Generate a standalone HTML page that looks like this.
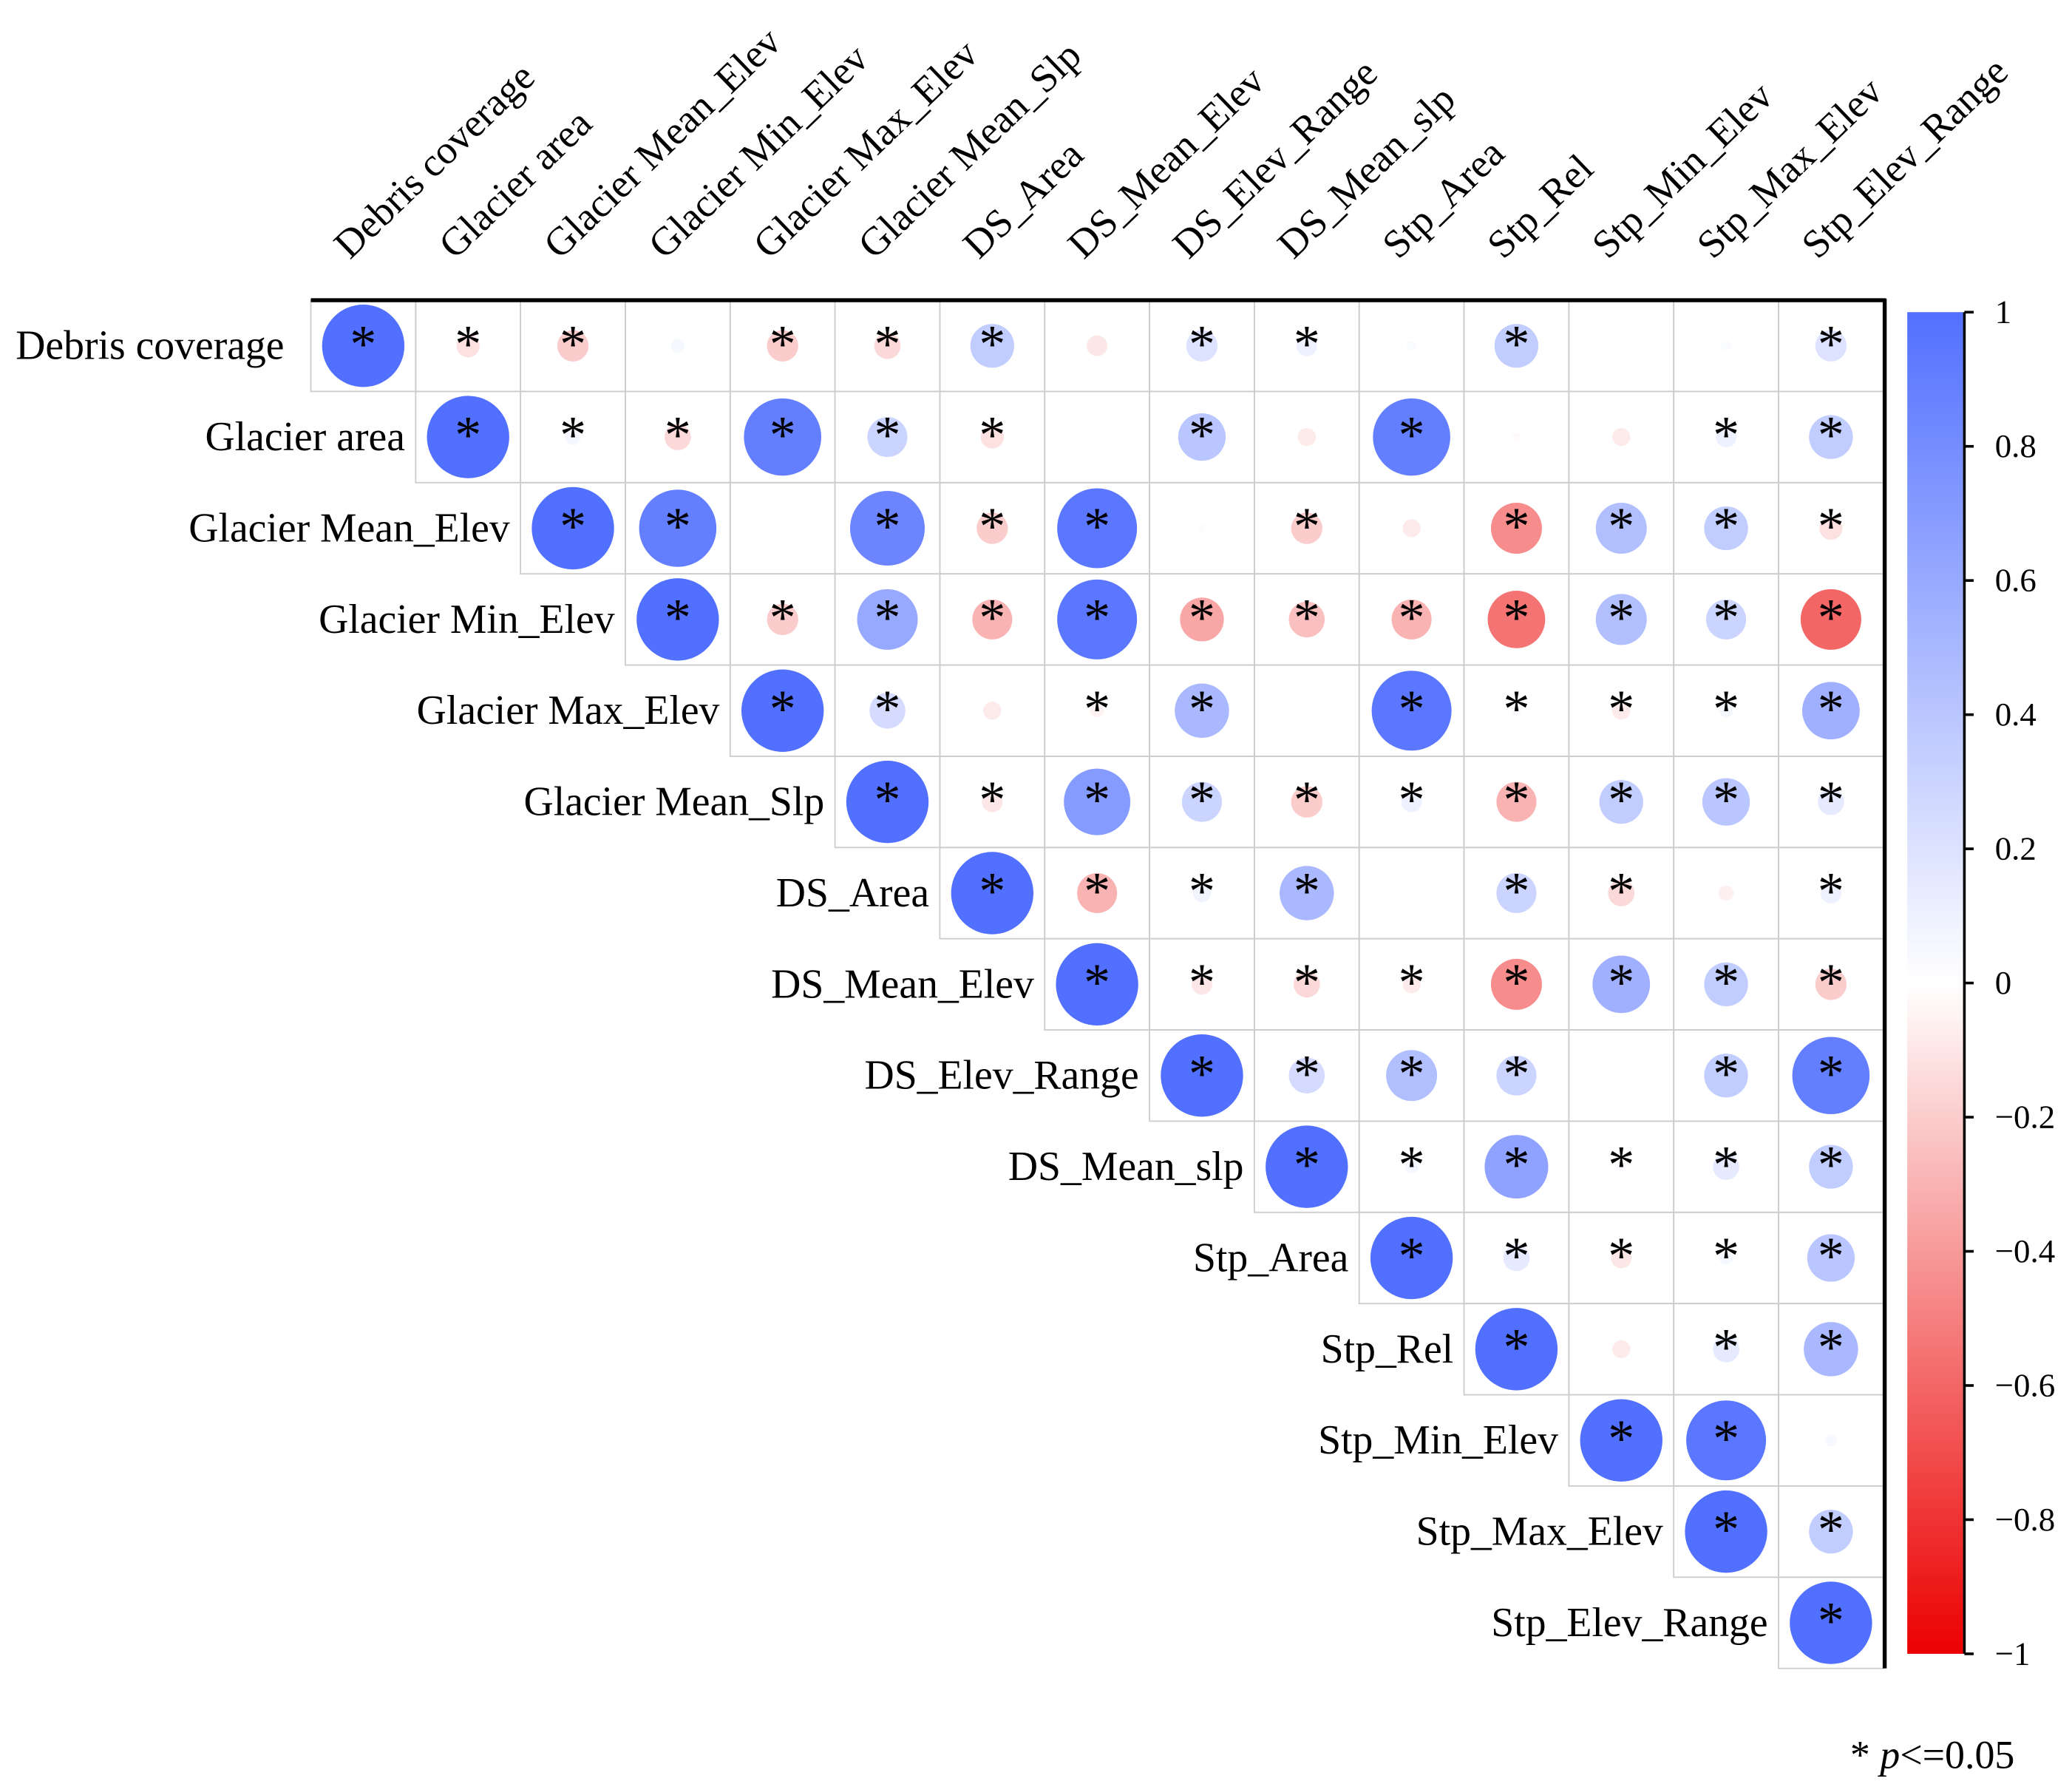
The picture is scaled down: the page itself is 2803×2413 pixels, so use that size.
<!DOCTYPE html>
<html><head><meta charset="utf-8">
<style>
html,body{margin:0;padding:0;background:#fff;}
svg{display:block;font-family:"Liberation Serif",serif;}
</style></head>
<body>
<svg id="chart" width="2803" height="2413" viewBox="0 0 1560 1343" xmlns="http://www.w3.org/2000/svg">
<defs>
<linearGradient id="cbar" x1="0" y1="0" x2="0" y2="1">
<stop offset="0" stop-color="rgb(82,112,255)"/>
<stop offset="0.5" stop-color="#ffffff"/>
<stop offset="1" stop-color="rgb(235,0,0)"/>
</linearGradient>
</defs>
<g id="grid"></g>
<g id="labels"></g>
<line x1="234" y1="226" x2="1420" y2="226" stroke="#000" stroke-width="3"/>
<line x1="1419" y1="225" x2="1419" y2="1256" stroke="#000" stroke-width="3"/>
<g id="colorbar">
<rect x="1436" y="235" width="42" height="1010" fill="url(#cbar)"/>
<line x1="1479" y1="235" x2="1479" y2="1245" stroke="#000" stroke-width="2"/>
</g>
<text x="1393" y="1331" font-size="30">* <tspan font-style="italic">p</tspan>&lt;=0.05</text>
</svg>
<script>
const names = ["Debris coverage","Glacier area","Glacier Mean_Elev","Glacier Min_Elev","Glacier Max_Elev","Glacier Mean_Slp","DS_Area","DS_Mean_Elev","DS_Elev_Range","DS_Mean_slp","Stp_Area","Stp_Rel","Stp_Min_Elev","Stp_Max_Elev","Stp_Elev_Range"];
// upper triangle rows, starting at diagonal
const row0 = [1,-0.12,-0.2,0.05,-0.2,-0.15,0.35,-0.1,0.2,0.1,0.03,0.35,0.01,0.03,0.2];
const row1 = [1,0.06,-0.15,0.9,0.3,-0.12,0.01,0.4,-0.08,0.9,-0.02,-0.08,0.1,0.35];
const row2 = [1,0.9,0.01,0.85,-0.2,0.95,0.02,-0.2,-0.08,-0.45,0.45,0.35,-0.12];
const row3 = [1,-0.2,0.6,-0.3,0.95,-0.35,-0.25,-0.3,-0.55,0.45,0.3,-0.6];
const row4 = [1,0.25,-0.08,-0.05,0.5,0.0,0.95,0.03,-0.08,0.05,0.55];
const row5 = [1,-0.1,0.7,0.3,-0.2,0.1,-0.3,0.35,0.4,0.15];
const row6 = [1,-0.3,0.08,0.5,0.0,0.3,-0.15,-0.06,0.1];
const row7 = [1,-0.1,-0.15,-0.08,-0.45,0.55,0.35,-0.2];
const row8 = [1,0.25,0.45,0.3,0.01,0.35,0.9];
const row9 = [1,0.05,0.65,0.03,0.15,0.35];
const row10 = [1,0.15,-0.1,0.05,0.4];
const row11 = [1,-0.08,0.15,0.5];
const row12 = [1,0.95,0.04];
const row13 = [1,0.35];
const row14 = [1];
const sig0 = [1,1,1,0,1,1,1,0,1,1,0,1,0,0,1];
const sig1 = [1,1,1,1,1,1,0,1,0,1,0,0,1,1];
const sig2 = [1,1,0,1,1,1,0,1,0,1,1,1,1];
const sig3 = [1,1,1,1,1,1,1,1,1,1,1,1];
const sig4 = [1,1,0,1,1,0,1,1,1,1,1];
const sig5 = [1,1,1,1,1,1,1,1,1,1];
const sig6 = [1,1,1,1,0,1,1,0,1];
const sig7 = [1,1,1,1,1,1,1,1];
const sig8 = [1,1,1,1,0,1,1];
const sig9 = [1,1,1,1,1,1];
const sig10 = [1,1,1,1,1];
const sig11 = [1,0,1,1];
const sig12 = [1,1,0];
const sig13 = [1,1];
const sig14 = [1];
const cbTicks = [1,0.8,0.6,0.4,0.2,0,-0.2,-0.4,-0.6,-0.8,-1];
const cbTickLabels = ["1","0.8","0.6","0.4","0.2","0","\u22120.2","\u22120.4","\u22120.6","\u22120.8","\u22121"];

const rows=[row0,row1,row2,row3,row4,row5,row6,row7,row8,row9,row10,row11,row12,row13,row14];
const sigs=[sig0,sig1,sig2,sig3,sig4,sig5,sig6,sig7,sig8,sig9,sig10,sig11,sig12,sig13,sig14];
const NS="http://www.w3.org/2000/svg";
const X0=234,Y0=226,CW=(1418-234)/15,CH=(1256-226)/15,RMAX=31;
const xOf=j=>X0+CW*j, yOf=i=>Y0+CH*i;
const cbY=v=>235+(1-v)/2*1010;
function color(r){
  if(r>=0){const t=r;return `rgb(${Math.round(255+(82-255)*t)},${Math.round(255+(112-255)*t)},255)`;}
  const t=-r;return `rgb(${Math.round(255+(235-255)*t)},${Math.round(255*(1-t))},${Math.round(255*(1-t))})`;
}
function mk(tag,attrs,parent){const e=document.createElementNS(NS,tag);for(const k in attrs)e.setAttribute(k,attrs[k]);parent.appendChild(e);return e;}
const grid=document.getElementById('grid'), labels=document.getElementById('labels'), cb=document.getElementById('colorbar');
rows.forEach((row,i)=>{
  row.forEach((r,k)=>{
    const j=i+k;
    const cell=mk('rect',{x:xOf(j),y:yOf(i),width:CW,height:CH,fill:'none',stroke:'#cccccc','stroke-width':1},grid);
    
    
    const cx=xOf(j)+CW/2, cy=yOf(i)+CH/2;
    const c=mk('circle',{cx:cx,cy:cy,r:RMAX*Math.pow(Math.abs(r),0.6),fill:color(r)},grid);
    
    
    if(sigs[i][k]){
      const s=mk('text',{x:cx,y:cy+12,'text-anchor':'middle','font-size':40},grid);
      s.textContent='*';
      
      
    }
  });
  const ex = i===0 ? 214 : xOf(i)-8;
  const rl=mk('text',{x:ex,y:yOf(i)+CH/2+10,'text-anchor':'end','font-size':31},labels);
  rl.textContent=names[i];
  
  
  const cx=xOf(i)+CW/2-10, cy=196;
  const cl=mk('text',{x:cx,y:cy,'font-size':30,transform:`rotate(-44 ${cx} ${cy})`},labels);
  cl.textContent=names[i];
  
  
});
cbTicks.forEach((v,i)=>{
  const y=cbY(v);
  const t=mk('line',{x1:1479,x2:1486,y1:y,y2:y,stroke:'#000','stroke-width':2},cb);
  
  
  const l=mk('text',{x:1502,y:y+8,'font-size':25},cb);
  l.textContent=cbTickLabels[i];
  
  
});
</script>
</body></html>
